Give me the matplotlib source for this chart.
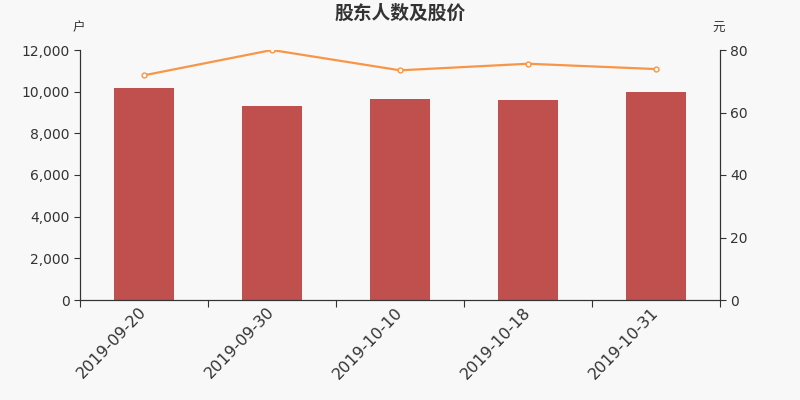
import matplotlib

matplotlib.use("Agg")
import matplotlib.pyplot as plt
import numpy as np
from matplotlib.ticker import FuncFormatter

plt.rcParams["font.family"] = ["DejaVu Sans", "Noto Sans CJK SC"]

BG = "#f8f8f8"
BAR = "#c0504d"
LINE = "#f79646"
AXIS = "#333333"

dates = ["2019-09-20", "2019-09-30", "2019-10-10", "2019-10-18", "2019-10-31"]
holders = [10180, 9310, 9640, 9600, 9980]
price = [71.9, 80.0, 73.5, 75.6, 73.9]


def main():
    fig = plt.figure(figsize=(8, 4), dpi=100, facecolor=BG)
    ax = fig.add_axes([0.1, 0.25, 0.8, 0.625], facecolor=BG)
    ax2 = ax.twinx()

    x = np.arange(len(dates))
    ax.bar(x, holders, width=0.47, color=BAR, zorder=2)
    ax2.plot(x, price, color=LINE, lw=1.6, marker="o", ms=3.5,
             mfc="white", mec=LINE, mew=1.0, zorder=3)

    ax.set_xlim(-0.5, len(dates) - 0.5)
    ax.set_ylim(0, 12000)
    ax2.set_ylim(0, 80)
    ax.set_yticks(np.arange(0, 12001, 2000))
    ax2.set_yticks(np.arange(0, 81, 20))
    ax.yaxis.set_major_formatter(FuncFormatter(lambda v, _: f"{v:,.0f}"))

    # ticks on category boundaries, labels under bar centres
    ax.set_xticks(np.arange(-0.5, len(dates), 1.0))
    ax.set_xticklabels([])
    ax.set_xticks(x, minor=True)
    ax.set_xticklabels(dates, minor=True, rotation=46, ha="right", va="center",
                       rotation_mode="anchor", fontsize=11.5, color=AXIS)
    ax.tick_params(axis="x", which="minor", length=0, pad=7)
    ax.tick_params(axis="x", which="major", length=5, color=AXIS)

    for a in (ax, ax2):
        for sp in a.spines.values():
            sp.set_color(AXIS)
        a.spines["top"].set_visible(False)
        a.tick_params(axis="y", colors=AXIS, labelsize=10, length=4)

    fig.text(0.5, 0.967, "股东人数及股价", ha="center", va="center",
             fontsize=13.5, fontweight="bold", color=AXIS,
             family=["Noto Sans CJK SC", "DejaVu Sans"])
    fig.text(0.098, 0.93, "户", ha="center", va="center", fontsize=9,
             color=AXIS, family=["Noto Sans CJK SC", "DejaVu Sans"])
    fig.text(0.898, 0.93, "元", ha="center", va="center", fontsize=9,
             color=AXIS, family=["Noto Sans CJK SC", "DejaVu Sans"])

    fig.savefig("out.png", dpi=100, facecolor=BG)
    plt.close(fig)


if __name__ == "__main__":
    main()
